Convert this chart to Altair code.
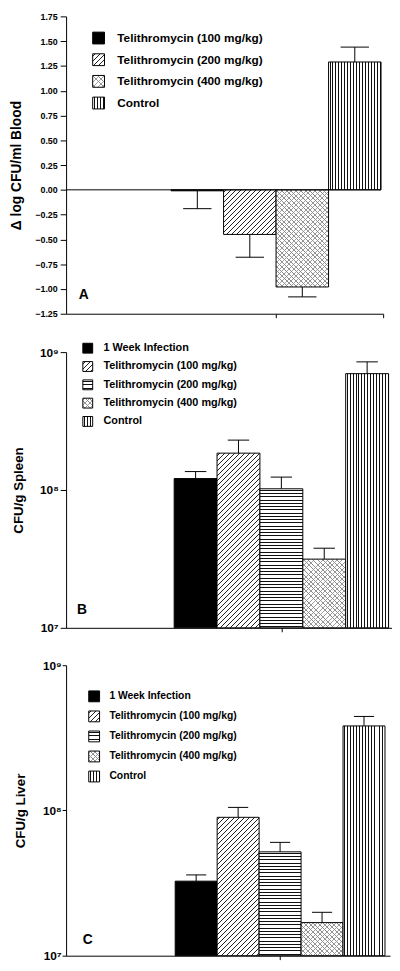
import math
import altair as alt
import pandas as pd

FONT = "Liberation Sans"

# ---------------- data ----------------
a_groups = ["Telithromycin (100 mg/kg)", "Telithromycin (200 mg/kg)",
            "Telithromycin (400 mg/kg)", "Control"]
a_values = [-0.01, -0.45, -0.98, 1.29]
a_err = [-0.19, -0.68, -1.08, 1.44]
a_ticks = [-1.25, -1.0, -0.75, -0.5, -0.25, 0.0, 0.25, 0.5, 0.75, 1.0, 1.25, 1.5, 1.75]

bc_groups = ["1 Week Infection", "Telithromycin (100 mg/kg)", "Telithromycin (200 mg/kg)",
             "Telithromycin (400 mg/kg)", "Control"]
b_values = [1.21e8, 1.85e8, 1.02e8, 3.15e7, 6.98e8]
b_err = [1.36e8, 2.30e8, 1.24e8, 3.78e7, 8.50e8]
c_values = [3.26e7, 8.97e7, 5.19e7, 1.69e7, 3.82e8]
c_err = [3.60e7, 1.05e8, 6.03e7, 1.99e7, 4.44e8]
log_ticks = [1e7, 1e8, 1e9]

a_patterns = ["solid", "diag", "dots", "vert"]
bc_patterns = ["solid", "diag", "horiz", "dots", "vert"]


# ---------------- hatch fills via hard-stop gradients ----------------
def _stops(L, period, lw, color, bg):
    out = [{"offset": 0, "color": bg}]
    c = period / 2.0
    while c < L:
        a = max(0.0, (c - lw / 2.0) / L)
        b = min(1.0, (c + lw / 2.0) / L)
        out += [{"offset": round(a, 5), "color": bg},
                {"offset": round(a, 5), "color": color},
                {"offset": round(b, 5), "color": color},
                {"offset": round(b, 5), "color": bg}]
        c += period
    out.append({"offset": 1, "color": bg})
    return out


def hatch(kind, W, H, period, lw, color="#111", bg="white"):
    W = max(W, 1.0)
    H = max(H, 1.0)
    if kind == "vert":
        g = dict(x1=0, y1=0, x2=1, y2=0)
        L = W
    elif kind == "horiz":
        g = dict(x1=0, y1=0, x2=0, y2=1)
        L = H
    else:
        s = (W + H) / (W * W + H * H)
        L = (W + H) / math.sqrt(2)
        if kind == "diag":
            g = dict(x1=0, y1=0, x2=round(W * s, 6), y2=round(H * s, 6))
        else:  # anti-diagonal
            g = dict(x1=0, y1=1, x2=round(W * s, 6), y2=round(1 - H * s, 6))
    return {"gradient": "linear", **g, "stops": _stops(L, period, lw, color, bg)}


def fills(kind, W, H, scale=1.0):
    """list of (fill, stroke) layers for a pattern"""
    if kind == "solid":
        return [("black", "black")]
    if kind == "vert":
        return [(hatch("vert", W, H, 3.0 * scale, 1.0), "black")]
    if kind == "horiz":
        return [(hatch("horiz", W, H, 3.3 * scale, 1.0), "black")]
    if kind == "diag":
        return [(hatch("diag", W, H, 3.6 * scale, 0.8, color="#222"), "black")]
    # dotted texture (light crosshatch)
    return [(hatch("diag", W, H, 3.4 * scale, 0.7, color="#a0a0a0"), None),
            (hatch("anti", W, H, 3.4 * scale, 0.7, color="#8c8c8c",
                   bg="rgba(255,255,255,0)"), "black")]


# ---------------- panel builder ----------------
def panel(groups, values, errs, patterns, p):
    rows = []
    for i, (g, v, e) in enumerate(zip(groups, values, errs)):
        x0 = p["start"] + i
        rows.append(dict(group=g, value=v, err=e, x0=x0, x1=x0 + 1, xc=x0 + 0.5,
                         capL=x0 + 0.5 - p["cap"], capR=x0 + 0.5 + p["cap"],
                         base=p["base"]))
    df = pd.DataFrame(rows)
    base = alt.Chart(df)

    x_axis = alt.Axis(values=p["xticks"], labels=False, title=None, grid=False,
                      tickSize=4, tickColor="black", domainColor="black",
                      domainWidth=1, tickWidth=1)
    xs = alt.Scale(domain=[0, p["xmax"]], nice=False, zero=False)
    y_axis = alt.Axis(values=p["yticks"], title=p["ytitle"], grid=False,
                      titleFont=FONT, titleFontSize=p["tfs"], titleFontWeight="bold",
                      titleColor="black", titlePadding=p["tpad"],
                      labelFont=FONT, labelFontSize=p["lfs"], labelFontWeight="bold",
                      labelColor="black", labelPadding=p["lpad"],
                      tickSize=p["tick"], tickColor="black", domainColor="black",
                      minExtent=p["ext"], maxExtent=p["ext"],
                      **p["yfmt"])
    ys = p["yscale"]

    def X(f):
        return alt.X(f, type="quantitative", scale=xs, axis=x_axis)

    def Y(f):
        return alt.Y(f, type="quantitative", scale=ys, axis=y_axis)

    px_x = p["width"] / p["xmax"]
    layers = []
    for i, (g, v) in enumerate(zip(groups, values)):
        H = abs(p["ypx"](v) - p["ypx"](p["base"]))
        for fill, stroke in fills(patterns[i], px_x, H):
            mk = dict(fill=fill, strokeWidth=1)
            if stroke:
                mk["stroke"] = stroke
            else:
                mk["strokeWidth"] = 0
            layers.append(
                base.transform_filter(alt.datum.group == g)
                .mark_rect(**mk)
                .encode(x=X("x0"), x2="x1", y=Y("value"), y2="base")
            )
    # error bars
    layers.append(base.mark_rule(color="black", strokeWidth=1)
                  .encode(x=X("xc"), y=Y("value"), y2="err"))
    layers.append(base.mark_rule(color="black", strokeWidth=1)
                  .encode(x=X("capL"), x2="capR", y=Y("err")))
    if p.get("zero_line") is not None:
        layers.append(alt.Chart(pd.DataFrame({"z": [0.0]})).mark_rule(color="black", strokeWidth=1)
                      .encode(y=Y("z"), x=alt.datum(0), x2=alt.datum(p["zero_line"])))

    # legend (manual, so that the swatches carry the same hatch patterns)
    lg = p["legend"]
    s = lg["size"]
    for i, g in enumerate(groups):
        yc = lg["y0"] + i * lg["dy"]
        for fill, stroke in fills(patterns[i], s, s, scale=lg["pscale"]):
            mk = dict(fill=fill, strokeWidth=1)
            if stroke:
                mk["stroke"] = stroke
            else:
                mk["strokeWidth"] = 0
            layers.append(alt.Chart(pd.DataFrame({"label": [g]})).mark_rect(**mk).encode(
                x=alt.value(lg["x0"]), x2=alt.value(lg["x0"] + s),
                y=alt.value(yc - s / 2), y2=alt.value(yc + s / 2)))
        layers.append(alt.Chart(pd.DataFrame({"label": [g]})).mark_text(
            align="left", baseline="middle", font=FONT, fontSize=lg["fs"],
            fontWeight="bold", color="black").encode(
            x=alt.value(lg["tx"]), y=alt.value(yc), text="label:N"))

    # panel letter
    layers.append(alt.Chart(pd.DataFrame({"t": [p["letter"]]})).mark_text(
        align="center", baseline="middle", font=FONT, fontSize=14,
        fontWeight="bold", color="black").encode(
        x=alt.value(p["letter_xy"][0]), y=alt.value(p["letter_xy"][1]), text="t:N"))

    return alt.layer(*layers).properties(width=p["width"], height=p["height"])


# ---------------- panels ----------------
A_H = 302
pA = dict(
    start=2.0, cap=0.27, base=0.0, xmax=6.04, xticks=[4.0, 6.04], width=322, height=A_H,
    yscale=alt.Scale(domain=[-1.25, 1.75], nice=False, zero=False),
    ypx=lambda v: v * A_H / 3.0,
    yticks=a_ticks, ytitle="\u0394 log CFU/ml Blood", tfs=14, tpad=15, lfs=9, lpad=3,
    tick=6, ext=28, yfmt=dict(format=".2f"),
    zero_line=6.0,
    legend=dict(size=12, x0=27, tx=52, y0=22, dy=22.0, fs=12, pscale=1.0),
    letter="A", letter_xy=(18, 283),
)

B_H = 280
pB = dict(
    start=2.52, cap=0.25, base=1e7, xmax=7.6, xticks=[5.02], width=331, height=B_H,
    yscale=alt.Scale(type="log", domain=[1e7, 1e9], nice=False),
    ypx=lambda v: math.log10(v) * B_H / 2.0,
    yticks=log_ticks, ytitle="CFU/g  Spleen", tfs=13.5, tpad=12, lfs=12, lpad=2,
    tick=6, ext=29, yfmt=dict(labelExpr="datum.value >= 1e9 ? '10\u2079' : datum.value >= 1e8 ? '10\u2078' : '10\u2077'"),
    zero_line=None,
    legend=dict(size=10, x0=17, tx=38, y0=-4, dy=18.6, fs=11, pscale=1.0),
    letter="B", letter_xy=(16, 262),
)

C_H = 295
pC = dict(
    start=2.6, cap=0.24, base=1e7, xmax=7.72, xticks=[5.1], width=329, height=C_H,
    yscale=alt.Scale(type="log", domain=[1e7, 1e9], nice=False),
    ypx=lambda v: math.log10(v) * C_H / 2.0,
    yticks=log_ticks, ytitle="CFU/g  Liver", tfs=13.5, tpad=10, lfs=12, lpad=1,
    tick=4, ext=29, yfmt=dict(labelExpr="datum.value >= 1e9 ? '10\u2079' : datum.value >= 1e8 ? '10\u2078' : '10\u2077'"),
    zero_line=None,
    legend=dict(size=11, x0=23, tx=44, y0=31.6, dy=20.35, fs=10.5, pscale=1.0),
    letter="C", letter_xy=(22, 279),
)

chart_a = panel(a_groups, a_values, a_err, a_patterns, pA)
chart_b = panel(bc_groups, b_values, b_err, bc_patterns, pB)
chart_c = panel(bc_groups, c_values, c_err, bc_patterns, pC)

chart = alt.vconcat(
    chart_a,
    alt.vconcat(chart_b, chart_c, spacing=26),
    spacing=24,
).properties(padding={"left": 2, "top": -3, "right": 0, "bottom": 0}).configure_view(stroke=None)

chart.save("out.html", embed_options={"renderer": "svg", "actions": False})
